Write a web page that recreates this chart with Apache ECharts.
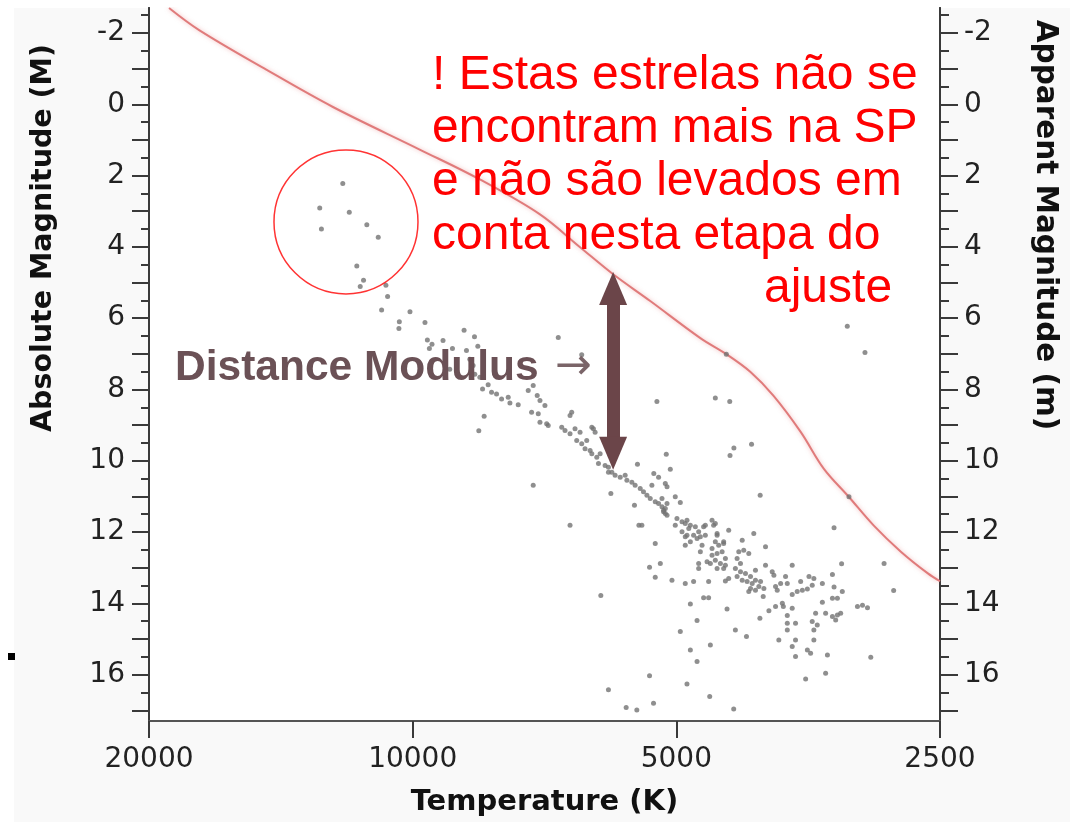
<!DOCTYPE html>
<html lang="pt">
<head>
    <meta charset="UTF-8">
    <title>Diagrama HR - Distance Modulus</title>
    <style>
        html, body { margin: 0; padding: 0; background: #fff; }
        #main { width: 1074px; height: 822px; }
    </style>
</head>
<body>
<div id="main"></div>
<script src="https://cdn.jsdelivr.net/npm/echarts@6.0.0/dist/echarts.min.js"></script>
<script type="text/javascript">
    var myChart = echarts.init(document.getElementById("main"));

    // eixo x: temperatura (escala log, invertida)
    var tempTicks = [20000, 10000, 5000, 2500];
    // eixos y: magnitudes
    var magLabels = [-2, 0, 2, 4, 6, 8, 10, 12, 14, 16];
    var magTicks = [-2, -1, 0, 1, 2, 3, 4, 5, 6, 7, 8, 9, 10, 11, 12, 13, 14, 15, 16, 17];
    var magHalfTicks = [-2.5, -1.5, -0.5, 0.5, 1.5, 2.5, 3.5, 4.5, 5.5, 6.5, 7.5, 8.5, 9.5, 10.5, 11.5, 12.5, 13.5, 14.5, 15.5, 16.5];

    // estrelas (temperatura K, magnitude absoluta)
    var starTemps = [
        12017, 12767, 11813, 12711, 11281, 10947, 11582, 11379, 11478, 10729,
        10681, 10851, 10071, 10357, 10368, 9682, 8736, 8500, 9621, 9505,
        9233, 9570, 9007, 8681, 8426, 8605, 8531, 8493, 8381, 9071,
        8322, 8200, 8127, 8021, 7916, 7779, 7744, 7577, 7380, 7284,
        7208, 7315, 7188, 8287, 8404, 7156, 7063, 7156, 7031, 7002,
        6820, 6412, 6583, 6612, 6758, 6700, 6612, 6526, 6440, 6497,
        6412, 6328, 6356, 6272, 6244, 6190, 6244, 6163, 6136, 6109,
        6218, 6030, 5977, 5977, 5924, 5873, 5795, 5720, 5694, 5620,
        5572, 5498, 5451, 5402, 5355, 5285, 5239, 5192, 5170, 5147,
        5124, 5192, 5170, 5124, 5147, 4948, 5939, 6612, 7284, 5262,
        4513, 4345, 5134, 5538, 5080, 5305, 5239, 5332, 5147, 5124,
        5014, 5582, 5517, 5285, 4298, 4342, 4103, 4011, 4384, 3190,
        3045, 3176, 3303, 3238, 2896, 2824, 2999, 3106, 3065, 3025,
        4992, 4926, 4862, 4819, 4756, 4715, 4654, 4633, 4552, 4533,
        4492, 4884, 4819, 4735, 4513, 4357, 4415, 5014, 4884, 4633,
        4513, 4839, 4926, 4862, 4778, 4694, 4884, 4673, 4694, 4552,
        4492, 4415, 4473, 4552, 4492, 4433, 4395, 4513, 4453, 4395,
        4572, 4612, 4492, 4415, 4715, 4715, 4205, 4079, 3955, 4243,
        4188, 4133, 4262, 4224, 4281, 4224, 4169, 4114, 4061, 4262,
        4205, 4151, 4096, 4061, 4025, 4007, 4114, 4061, 4133, 3972,
        4357, 4395, 3955, 3886, 3869, 3852, 3801, 3752, 3687, 3835,
        3979, 3920, 3852, 3784, 3774, 4014, 3735, 3735, 3735, 3687,
        3655, 3735, 3687, 3639, 3590, 3543, 3498, 3528, 3483, 3606,
        3406, 3317, 3303, 3317, 3274, 3232, 3406, 3467, 3377, 3317,
        3274, 3246, 3289, 3498, 3452, 3483, 3483, 3543, 3513, 3687,
        3655, 3655, 3819, 3361, 3377, 3559, 4948, 4819, 4735, 4654,
        4593, 5058, 4884, 4778, 4593, 5285, 5365, 5215, 5474, 4376,
        4281, 4158, 4572, 4819, 4735, 4862, 5365, 5309, 4580, 4300,
        6098, 5977, 5705, 5547
    ];
    var starMags = [
        2.22, 2.91, 3.03, 3.50, 3.38, 3.73, 4.54, 4.94, 5.11, 5.08,
        5.39, 5.77, 5.82, 6.10, 6.29, 6.12, 6.34, 6.52, 6.61, 6.73,
        6.63, 6.85, 6.85, 6.91, 6.79, 7.15, 7.33, 7.57, 7.66, 7.43,
        7.99, 7.87, 8.08, 8.13, 8.27, 8.22, 8.38, 8.43, 8.03, 7.89,
        8.17, 8.64, 8.68, 8.75, 9.16, 8.31, 8.45, 8.92, 8.96, 9.01,
        6.54, 7.03, 8.64, 8.73, 9.06, 9.15, 9.24, 9.10, 9.20, 9.43,
        9.52, 9.43, 9.66, 9.71, 9.06, 9.20, 9.80, 9.90, 10.08, 9.80,
        9.10, 10.13, 10.32, 10.18, 10.32, 10.41, 10.46, 10.41, 10.55, 10.60,
        10.69, 10.78, 10.87, 10.97, 11.06, 11.15, 11.20, 11.29, 11.39, 11.48,
        11.20, 11.06, 11.43, 11.53, 11.34, 11.17, 10.92, 11.81, 10.69, 8.34,
        8.24, 8.34, 9.82, 10.10, 10.24, 10.36, 10.46, 10.69, 10.64, 10.73,
        11.01, 11.25, 11.81, 12.32, 9.64, 9.85, 9.54, 10.97, 7.01, 6.23,
        6.96, 11.01, 11.88, 12.89, 12.88, 13.64, 15.51, 14.09, 14.05, 14.12,
        11.62, 11.71, 11.67, 11.81, 11.85, 11.99, 11.85, 12.09, 11.67, 11.81,
        12.04, 12.13, 12.27, 12.18, 12.27, 11.95, 12.27, 11.81, 11.76, 11.81,
        11.76, 11.90, 11.99, 12.09, 12.09, 12.13, 12.37, 12.37, 12.55, 12.46,
        12.09, 12.32, 12.37, 12.65, 12.60, 12.55, 12.74, 12.79, 12.88, 12.93,
        12.88, 12.83, 13.02, 13.02, 12.88, 13.02, 12.23, 12.04, 12.41, 12.55,
        12.51, 12.60, 12.74, 12.88, 13.02, 13.11, 13.16, 13.25, 13.07, 13.25,
        13.35, 13.39, 13.44, 13.35, 13.53, 13.39, 13.58, 13.63, 13.67, 13.58,
        13.30, 13.37, 12.93, 13.11, 13.21, 13.53, 13.44, 13.25, 12.93, 13.63,
        13.81, 14.21, 14.09, 14.00, 14.09, 14.42, 14.34, 14.56, 14.75, 14.14,
        14.56, 13.44, 13.75, 13.67, 13.63, 13.60, 13.49, 13.25, 13.30, 13.39,
        13.44, 13.19, 13.54, 13.86, 13.86, 13.67, 13.97, 14.28, 14.28, 14.37,
        14.33, 14.28, 14.47, 14.51, 14.61, 14.75, 15.03, 15.31, 15.40, 15.21,
        15.49, 15.03, 15.03, 15.45, 15.96, 16.12, 14.79, 14.02, 14.48, 13.84,
        13.84, 13.35, 13.44, 13.39, 13.39, 13.27, 12.99, 12.88, 11.81, 14.16,
        14.75, 14.93, 15.17, 15.31, 15.63, 16.26, 16.03, 16.80, 16.61, 16.96,
        13.78, 16.42, 16.92, 16.99
    ];

    // curva vermelha (sequencia principal deslocada, magnitude aparente)
    var curveTemps = [18973, 17531, 14693, 12347, 9817, 8381, 7156, 6440, 5903, 5355, 4694, 4384, 4114, 3872, 3606, 3394, 3178, 2975, 2771, 2581, 2500];
    var curveMags = [-2.70, -2.08, -0.97, 0.07, 1.27, 2.11, 3.09, 4.01, 4.77, 5.52, 6.56, 7.01, 7.51, 8.18, 9.19, 10.22, 11.01, 11.82, 12.55, 13.16, 13.38];

    // anotacoes
    var circleTemps = [11916];
    var circleMags = [3.30];
    var arrowTemp = 5904;
    var arrowMags = [5.17, 9.79];
    var noteLines = ["! Estas estrelas não se", "encontram mais na SP", "e não são levados em", "conta nesta etapa do"];
    var noteLast = "ajuste";

    var stars = starTemps.map(function (t, i) { return [t, starMags[i]]; });
    var curve = curveTemps.map(function (t, i) { return [t, curveMags[i]]; });
    var circle = circleTemps.map(function (t, i) { return [t, circleMags[i]]; });

    var axisFont = "DejaVu Sans";

    function magAxis(pos, ticks, len, showLabels) {
        return {
            type: "value",
            position: pos,
            inverse: true,
            min: -2.7,
            max: 17.3,
            axisLine: {show: true, onZero: false, lineStyle: {color: "#3a3a3a", width: 2}},
            axisTick: {show: true, customValues: ticks, length: len, lineStyle: {color: "#3a3a3a", width: 2}},
            axisLabel: {
                show: showLabels,
                customValues: magLabels,
                margin: 24,
                color: "#222",
                fontSize: 28,
                fontFamily: axisFont
            },
            splitLine: {show: false}
        };
    }

    var option = {
        animation: false,
        backgroundColor: "#ffffff",
        grid: {
            left: 149,
            right: 134,
            top: 8,
            bottom: 99,
            show: true,
            backgroundColor: "#ffffff",
            borderWidth: 0
        },
        xAxis: {
            type: "log",
            logBase: 10,
            inverse: true,
            min: 2500,
            max: 20000,
            name: "Temperature (K)",
            nameLocation: "middle",
            nameGap: 67,
            nameTextStyle: {fontFamily: axisFont, fontWeight: "bold", fontSize: 29, color: "#111"},
            axisLine: {show: true, onZero: false, lineStyle: {color: "#555", width: 2}},
            axisTick: {show: true, customValues: tempTicks, length: 17, lineStyle: {color: "#3a3a3a", width: 2}},
            axisLabel: {
                customValues: tempTicks,
                margin: 25,
                color: "#222",
                fontSize: 28,
                fontFamily: axisFont,
                formatter: function (v) { return String(Math.round(v)); }
            },
            splitLine: {show: false},
            minorTick: {show: false}
        },
        yAxis: [
            magAxis("left", magTicks, 17, true),
            magAxis("left", magHalfTicks, 8, false),
            magAxis("right", magTicks, 18, true),
            magAxis("right", magHalfTicks, 9, false)
        ],
        series: [
            {
                name: "estrelas",
                type: "scatter",
                data: stars,
                symbolSize: 5,
                itemStyle: {color: "#737373"},
                silent: true,
                z: 3,
                markLine: {
                    silent: true,
                    symbol: ["triangle", "triangle"],
                    symbolSize: [28, 33],
                    label: {show: false},
                    lineStyle: {color: "#6b4549", width: 13, type: "solid", opacity: 1},
                    emphasis: {disabled: true},
                    data: [[{coord: [arrowTemp, arrowMags[0]]}, {coord: [arrowTemp, arrowMags[1]]}]]
                }
            },
            {
                name: "curva",
                type: "line",
                data: curve,
                smooth: 0.35,
                showSymbol: false,
                silent: true,
                z: 2,
                lineStyle: {color: "#e07b7b", width: 2, shadowBlur: 4, shadowColor: "rgba(230,120,120,0.5)"}
            },
            {
                name: "circulo",
                type: "scatter",
                data: circle,
                symbol: "circle",
                symbolSize: 144,
                silent: true,
                z: 4,
                itemStyle: {color: "rgba(0,0,0,0)", borderColor: "#ff0000", borderWidth: 1.5}
            }
        ],
        graphic: [
            {
                type: "rect", z: -100, silent: true,
                shape: {x: 14, y: 8, width: 1056, height: 814},
                style: {fill: "#f9f9f9"}
            },
            {
                type: "rect", z: 10, silent: true,
                shape: {x: 8, y: 653, width: 7, height: 7},
                style: {fill: "#000"}
            },
            {
                type: "text", z: 10, silent: true,
                x: 44, y: 238, rotation: Math.PI / 2,
                style: {text: "Absolute Magnitude (M)", font: "bold 28.5px 'DejaVu Sans'", fill: "#111", align: "center", verticalAlign: "middle"}
            },
            {
                type: "text", z: 10, silent: true,
                x: 1045, y: 225, rotation: -Math.PI / 2,
                style: {text: "Apparent Magnitude (m)", font: "bold 29.5px 'DejaVu Sans'", fill: "#111", align: "center", verticalAlign: "middle"}
            },
            {
                type: "text", z: 10, silent: true,
                x: 175, y: 368,
                style: {
                    text: "{b|Distance Modulus}{a|→}",
                    align: "left",
                    verticalAlign: "middle",
                    rich: {
                        b: {font: "bold 42.5px 'Liberation Sans'", fill: "#6b5156"},
                        a: {font: "44px 'DejaVu Sans'", fill: "#7a6468", padding: [0, 0, 0, 16]}
                    }
                }
            },
            {
                type: "text", z: 10, silent: true,
                x: 432, y: 49,
                style: {text: noteLines.join("\n"), font: "48px 'Liberation Sans'", lineHeight: 53.3, fill: "#ff0000", align: "left", verticalAlign: "top"}
            },
            {
                type: "text", z: 10, silent: true,
                x: 764, y: 289,
                style: {text: noteLast, font: "48px 'Liberation Sans'", fill: "#ff0000", align: "left", verticalAlign: "middle"}
            }
        ]
    };

    myChart.setOption(option);
</script>
</body>
</html>
